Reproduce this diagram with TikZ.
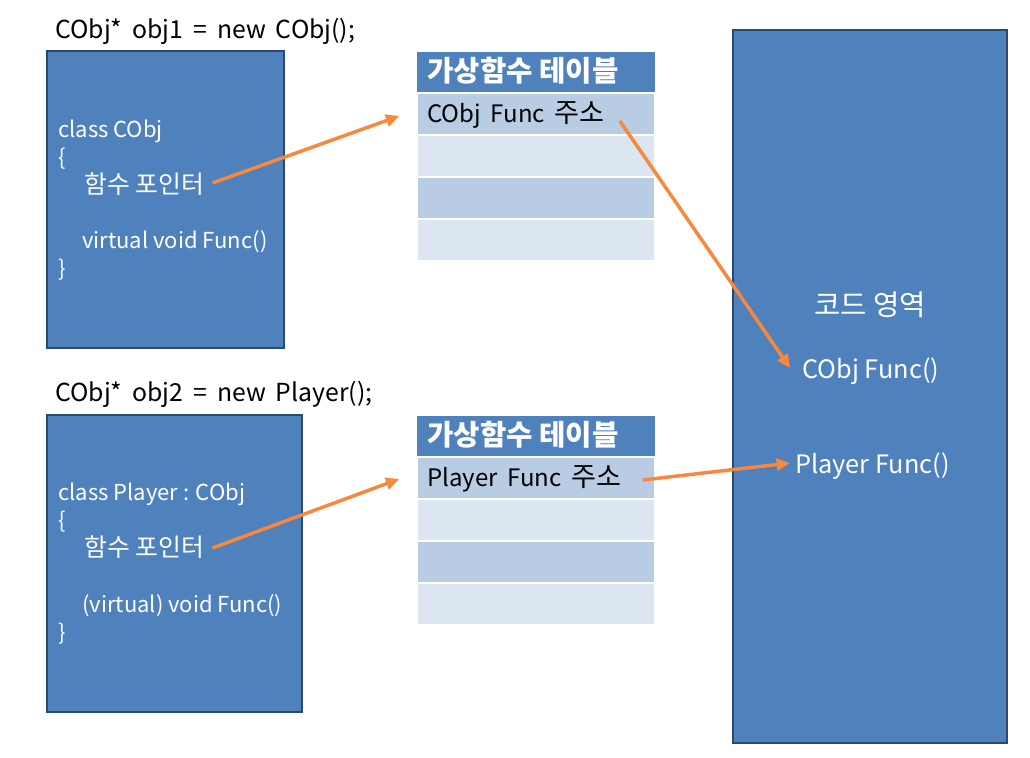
\documentclass[tikz,border=0pt]{standalone}
\usepackage{fontspec}
\setmainfont{Noto Sans CJK KR}
\newfontfamily\hg[Scale=1.13]{Noto Sans CJK KR}
\newfontfamily\capfont[WordSpace=2.5]{Noto Sans CJK KR}
\newfontfamily\cellfont[WordSpace=1.8]{Noto Sans CJK KR}
\usetikzlibrary{calc,arrows.meta}
\definecolor{boxblue}{HTML}{4F81BD}
\definecolor{boxedge}{HTML}{2C4770}
\definecolor{rowdark}{HTML}{B8CCE4}
\definecolor{rowlight}{HTML}{DCE6F1}
\definecolor{arrowor}{HTML}{F7883D}
\begin{document}
\begin{tikzpicture}[x=0.75pt,y=-0.75pt,
  classbox/.style={draw=boxedge, line width=1.5pt, fill=boxblue, inner sep=0pt},
  txt/.style={font=\fontsize{16.5}{20}\selectfont, inner sep=0pt, anchor=base west},
  captxt/.style={txt, font=\capfont\fontsize{18.6}{20}\selectfont},
  wtxt/.style={txt, text=white},
  hgtxt/.style={wtxt, font=\hg\fontsize{16.5}{20}\selectfont},
  celltxt/.style={txt, font=\cellfont\fontsize{18}{20}\selectfont},
  codetxt/.style={wtxt, font=\fontsize{19}{20}\selectfont},
  hdrcell/.style={fill=boxblue, inner sep=0pt, minimum width=238*0.75pt, minimum height=41*0.75pt},
  darkcell/.style={fill=rowdark, draw=white, line width=1.2pt, inner sep=0pt, minimum width=238*0.75pt, minimum height=42*0.75pt},
  lightcell/.style={darkcell, fill=rowlight},
  hdrtxt/.style={txt, text=white, font=\fontsize{21.5}{24}\selectfont\bfseries},
  ptr/.style={draw=arrowor, line width=2.6pt, -{Triangle[length=10pt,width=9pt]}}
]
\useasboundingbox (0,0) rectangle (1030,757);

% left class boxes
\node[classbox, minimum width=237*0.75pt, minimum height=297*0.75pt] (box1) at (165.5,199.5) {};
\node[classbox, minimum width=255*0.75pt, minimum height=297*0.75pt] (box2) at (174.5,563.5) {};
% code area
\node[classbox, minimum width=274*0.75pt, minimum height=713*0.75pt] (code) at (870,386.5) {};

% captions
\node[captxt] (cap1) at (55,38) {CObj* obj1 = new CObj();};
\node[captxt] (cap2) at (55,401) {CObj* obj2 = new Player();};

% class 1 text
\node[wtxt] (c1a) at (58,137) {class CObj};
\node[wtxt] (c1b) at (58,165) {\{};
\node[hgtxt] (ptr1) at (84,193) {함수 포인터};
\node[wtxt] (c1d) at (82,248) {virtual void Func()};
\node[wtxt] (c1e) at (58,276) {\}};

% class 2 text
\node[wtxt] (c2a) at (58,500) {class Player : CObj};
\node[wtxt] (c2b) at (58,528) {\{};
\node[hgtxt] (ptr2) at (84,556) {함수 포인터};
\node[wtxt] (c2d) at (82,612) {(virtual) void Func()};
\node[wtxt] (c2e) at (58,640) {\}};

% table 1
\node[hdrcell] (h1) at (536,72) {};
\node[darkcell] (r1a) at (536,114) {};
\node[lightcell] (r1b) at (536,156) {};
\node[darkcell] (r1c) at (536,198) {};
\node[lightcell] (r1d) at (536,240) {};
\node[hdrtxt] (h1t) at (427,81) {가상함수 테이블};
\node[celltxt] (addr1) at (427,122) {CObj Func {\hg 주소}};

% table 2
\node[hdrcell] (h2) at (536,436) {};
\node[darkcell] (r2a) at (536,478) {};
\node[lightcell] (r2b) at (536,520) {};
\node[darkcell] (r2c) at (536,562) {};
\node[lightcell] (r2d) at (536,604) {};
\node[hdrtxt] (h2t) at (427,445) {가상함수 테이블};
\node[celltxt] (addr2) at (427,486) {Player Func {\hg 주소}};

% code area texts
\node[codetxt, anchor=base, font=\hg\fontsize{19}{20}\selectfont] (area) at (870,315) {코드 영역};
\node[codetxt] (cfunc) at (802,378) {CObj Func()};
\node[codetxt] (pfunc) at (795,473) {Player Func()};

% arrows
\draw[ptr] ($(ptr1.base east)+(8,-10)$) -- ($(r1a.west)+(-17,2)$);
\draw[ptr] ($(addr1.base east)+(15,-1)$) -- ($(cfunc.base west)+(-12,-10)$);
\draw[ptr] ($(ptr2.base east)+(8,-8)$) -- ($(r2a.west)+(-17,1)$);
\draw[ptr] ($(addr2.base east)+(21,-6)$) -- ($(pfunc.base west)+(-5,-10)$);
\end{tikzpicture}
\end{document}
